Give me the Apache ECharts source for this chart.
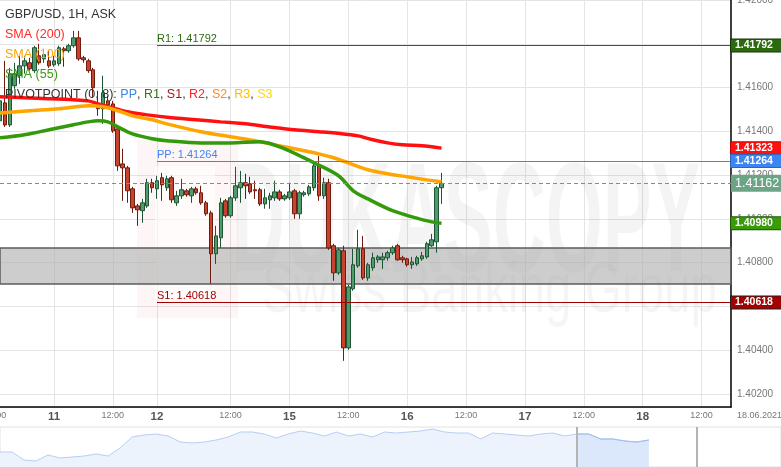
<!DOCTYPE html>
<html><head><meta charset="utf-8">
<script src="https://cdn.jsdelivr.net/npm/echarts@6.0.0/dist/echarts.min.js"></script>
<style>html,body{margin:0;padding:0;background:#fff;overflow:hidden}#c{width:781px;height:467px}</style>
</head><body><div id="c"></div>
<script>
// ---- trading sessions (date, first hour, last hour) -> hourly categories
const sessions = [
  ['2021-06-10', 13, 23], ['2021-06-11', 0, 23], ['2021-06-12', 0, 20],
  ['2021-06-14', 21, 23], ['2021-06-15', 0, 23], ['2021-06-16', 0, 23],
  ['2021-06-17', 0, 23], ['2021-06-18', 0, 18]
];
const dayTickLabels = {
  '2021-06-11 00:00': '11', '2021-06-11 21:00': '12', '2021-06-15 00:00': '15',
  '2021-06-16 00:00': '16', '2021-06-17 00:00': '17', '2021-06-18 00:00': '18'
};
const noonLabel = '12:00';

// ---- GBP/USD 1H candles
const opens = [1.41448,1.41530,1.41429,1.41608,1.41654,1.41699,1.41713,1.41677,1.41745,1.41731,
1.41722,1.41704,1.41709,1.41777,1.41768,1.41791,1.41827,1.41736,1.41722,1.41681,
1.41525,1.41503,1.41539,1.41525,1.41411,1.41251,1.41233,1.41137,1.41059,1.41037,
1.41059,1.41165,1.41137,1.41188,1.41142,1.41188,1.41073,1.41105,1.41128,1.41105,
1.41137,1.41119,1.41073,1.41027,1.40840,1.40913,1.41082,1.41014,1.41096,1.41142,
1.41165,1.41160,1.41133,1.41133,1.41068,1.41087,1.41096,1.41123,1.41091,1.41096,
1.41128,1.41023,1.41110,1.41114,1.41142,1.41242,1.41105,1.41165,1.40877,1.40753,
1.40854,1.40410,1.40680,1.40785,1.40863,1.40730,1.40776,1.40813,1.40813,1.40822,
1.40845,1.40877,1.40822,1.40817,1.40790,1.40794,1.40817,1.40826,1.40877,1.40895,1.41142];
const closes = [1.41539,1.41429,1.41663,1.41663,1.41699,1.41722,1.41686,1.41782,1.41713,1.41750,
1.41699,1.41722,1.41782,1.41768,1.41791,1.41827,1.41731,1.41727,1.41677,1.41599,
1.41503,1.41576,1.41521,1.41402,1.41242,1.41233,1.41128,1.41050,1.41041,1.41073,
1.41165,1.41142,1.41174,1.41155,1.41183,1.41087,1.41105,1.41133,1.41110,1.41137,
1.41119,1.41073,1.41023,1.40840,1.40922,1.41073,1.41014,1.41096,1.41151,1.41165,
1.41151,1.41123,1.41128,1.41068,1.41096,1.41105,1.41123,1.41091,1.41105,1.41123,
1.41023,1.41119,1.41119,1.41146,1.41242,1.41105,1.41165,1.40867,1.40753,1.40858,
1.40410,1.40689,1.40790,1.40863,1.40730,1.40790,1.40822,1.40826,1.40826,1.40845,
1.40867,1.40813,1.40813,1.40790,1.40803,1.40822,1.40831,1.40886,1.40904,1.41142,1.41162];
const lows = [1.41229,1.41420,1.41420,1.41594,1.41617,1.41663,1.41677,1.41667,1.41704,1.41713,
1.41690,1.41695,1.41699,1.41695,1.41759,1.41782,1.41722,1.41713,1.41667,1.41553,
1.41471,1.41434,1.41503,1.41393,1.41219,1.41082,1.41073,1.41027,1.40968,1.40982,
1.41050,1.41119,1.41091,1.41082,1.41128,1.41073,1.41059,1.41091,1.41101,1.41073,
1.41110,1.41064,1.41014,1.40703,1.40794,1.40867,1.41005,1.41005,1.41082,1.41073,
1.41091,1.41114,1.41091,1.41059,1.41046,1.41046,1.41082,1.41082,1.41082,1.41087,
1.41000,1.41000,1.41101,1.41105,1.41128,1.41082,1.41091,1.40858,1.40717,1.40744,
1.40351,1.40401,1.40671,1.40776,1.40721,1.40717,1.40762,1.40799,1.40771,1.40808,
1.40835,1.40808,1.40799,1.40781,1.40771,1.40785,1.40808,1.40817,1.40872,1.40845,1.41068];
const highs = [1.41553,1.41722,1.41690,1.41713,1.41745,1.41745,1.41736,1.41791,1.41800,1.41777,
1.41768,1.41745,1.41791,1.41786,1.41800,1.41859,1.41859,1.41745,1.41731,1.41690,
1.41585,1.41654,1.41562,1.41539,1.41420,1.41320,1.41242,1.41146,1.41068,1.41091,
1.41183,1.41183,1.41197,1.41210,1.41197,1.41197,1.41128,1.41183,1.41137,1.41146,
1.41146,1.41151,1.41082,1.41037,1.40968,1.41096,1.41091,1.41105,1.41238,1.41219,
1.41206,1.41192,1.41174,1.41142,1.41137,1.41119,1.41174,1.41133,1.41114,1.41165,
1.41137,1.41128,1.41128,1.41155,1.41256,1.41288,1.41188,1.41183,1.40886,1.40867,
1.40877,1.40698,1.40863,1.40950,1.40922,1.40799,1.40845,1.40835,1.40845,1.40854,
1.40877,1.40886,1.40831,1.40822,1.40826,1.40831,1.40849,1.40895,1.40931,1.41151,1.41210];

// ---- moving averages: [candle index, value]
const sma200 = [[0,1.41558],[5,1.41553],[10,1.41549],[15,1.41544],[18,1.41539],[20,1.41525],[23,1.41507],[26,1.41489],[30,1.41475],[35,1.41462],[40,1.41453],[45,1.41443],[50,1.41434],[55,1.41420],[60,1.41407],[65,1.41398],[70,1.41388],[73,1.41379],[76,1.41361],[79,1.41347],[82,1.41338],[86,1.41334],[90,1.41323]];
const sma100 = [[0,1.41484],[6,1.41494],[12,1.41503],[18,1.41517],[21,1.41512],[24,1.41494],[27,1.41471],[31,1.41453],[34,1.41434],[41,1.41398],[47,1.41375],[52,1.41357],[58,1.41329],[62,1.41311],[65,1.41297],[68,1.41279],[71,1.41256],[75,1.41224],[79,1.41206],[83,1.41192],[87,1.41178],[90,1.41169]];
const sma55 = [[0,1.41370],[5,1.41384],[10,1.41407],[15,1.41430],[18,1.41443],[20,1.41448],[22,1.41443],[24,1.41420],[27,1.41388],[31,1.41366],[34,1.41357],[41,1.41347],[47,1.41347],[53,1.41352],[58,1.41320],[64,1.41256],[69,1.41197],[72,1.41128],[75,1.41091],[80,1.41037],[84,1.41009],[88,1.40986],[90,1.40980]];

// ---- levels
const pivotR1 = 1.41792, pivotPP = 1.41264, pivotS1 = 1.40618;
const pivotStart = '2021-06-11 21:00';
const lastPrice = 1.41162;
const supportZone = [1.40702, 1.40867];
const yMin = 1.4014, yMax = 1.42;

// ---- navigator (relative level)
const navValues = [15,15,7,6,12,9,10,11,13,11,19,30,32,33,31,25,24,25,27,30,35,35,33,29,33,36,34,31,35,31,33,30,35,34,35,36,38,35,34,34,28,34,33,32,31,33,34,31,33,33,28,28,26,25,27];
const navSlots = 66, navWindowStart = 48, navHandleEnd = 58;

const categories = [];
sessions.forEach(([d, h0, h1]) => { for (let h = h0; h <= h1; h++) categories.push(d + ' ' + String(h).padStart(2, '0') + ':00'); });
const firstCat = categories[0], lastCat = categories[categories.length - 1];
const candleData = opens.map((o, i) => [o, closes[i], lows[i], highs[i]]);
const navCats = Array.from({length: navSlots}, (_, i) => String(i));
const navWindow = navValues.map((v, i) => i >= navWindowStart ? v : null);

const FONT = 'Liberation Sans, Arial, sans-serif';
const isTick = (i, v) => !!dayTickLabels[v] || v.slice(11) === noonLabel;

function boxLabel(text, bg, border, big) {
  return {
    show: true, position: 'end', distance: 0, formatter: text,
    color: '#fff', fontWeight: big ? 'normal' : 'bold', fontSize: big ? 12.5 : 10.5, fontFamily: FONT,
    backgroundColor: bg, borderColor: border, borderWidth: big ? 0 : 1,
    padding: big ? [2, 3, 1, 4] : [1, 3, 0, 4], width: 43, height: big ? 14 : 11, lineHeight: big ? 14 : 11, align: 'left'
  };
}
function endBox(value, bg, border, big) {
  return [
    {coord: [firstCat, value], lineStyle: {color: 'rgba(0,0,0,0)', width: 1}, label: boxLabel(value.toFixed(5), bg, border, big)},
    {coord: [lastCat, value]}
  ];
}
function pivotLine(value, name, color) {
  return [
    {coord: [pivotStart, value], lineStyle: {color: color, width: 1, type: 'solid'},
     label: {show: true, position: 'insideStartTop', distance: [0, 1], formatter: name + ': ' + value.toFixed(5),
             color: color, fontSize: 11, fontFamily: FONT}},
    {coord: [lastCat, value]}
  ];
}

const chart = echarts.init(document.getElementById('c'));
chart.setOption({
  animation: false,
  backgroundColor: '#fff',
  textStyle: {fontFamily: FONT},
  grid: [
    {left: 0, top: 0, width: 731, height: 407, outerBoundsMode: 'none', containLabel: false},
    {left: 0, right: 0, top: 427, bottom: 0, show: true, borderColor: '#e2e2e2', borderWidth: 1, outerBoundsMode: 'none', containLabel: false}
  ],
  xAxis: [
    {type: 'category', gridIndex: 0, data: categories, boundaryGap: false,
     axisLine: {lineStyle: {color: '#000', width: 1.5}}, axisTick: {show: false},
     axisLabel: {interval: isTick, margin: 4, hideOverlap: false,
       formatter: v => dayTickLabels[v] ? '{d|' + dayTickLabels[v] + '}' : '{h|' + noonLabel + '}',
       rich: {d: {fontWeight: 'bold', fontSize: 11.5, color: '#555', fontFamily: FONT},
              h: {fontSize: 9, color: '#777', fontFamily: FONT}}},
     splitLine: {show: true, interval: isTick, lineStyle: {color: '#e4e4e4'}}},
    {type: 'category', gridIndex: 1, data: navCats, boundaryGap: false, show: false}
  ],
  yAxis: [
    {type: 'value', gridIndex: 0, position: 'right', min: yMin, max: yMax, splitNumber: 9, scale: true,
     axisLine: {show: true, lineStyle: {color: '#000', width: 1.5}}, axisTick: {show: false},
     axisLabel: {margin: 6, color: '#777', fontSize: 10, fontFamily: FONT,
       formatter: v => Math.abs(v / 0.002 - Math.round(v / 0.002)) < 1e-6 ? v.toFixed(5) : ''},
     splitLine: {lineStyle: {color: '#e4e4e4'}}},
    {type: 'value', gridIndex: 1, min: 0, max: 40, show: false}
  ],
  graphic: [
    // watermark
    {type: 'rect', z: 1, silent: true, shape: {x: 137, y: 140, width: 101, height: 178}, style: {fill: 'rgba(230,40,40,0.045)'}},
    {type: 'rect', z: 1, silent: true, shape: {x: 155, y: 166, width: 60, height: 134}, style: {fill: 'rgba(255,255,255,0.6)'}},
    {type: 'text', z: 1, silent: true, x: 232, y: 150, scaleX: 0.47,
     style: {text: 'DUKASCOPY', font: 'bold 156px ' + FONT, fill: 'rgba(0,0,0,0.045)', textBaseline: 'top'}},
    {type: 'text', z: 1, silent: true, x: 262, y: 258, scaleX: 0.68,
     style: {text: 'Swiss Banking Group', font: '70px ' + FONT, fill: 'rgba(0,0,0,0.04)', textBaseline: 'top'}},
    // legend
    {type: 'text', z: 50, x: 5, y: 15, style: {text: 'GBP/USD, 1H, ASK', font: '12.5px ' + FONT, fill: '#333', textVerticalAlign: 'middle'}},
    {type: 'text', z: 50, x: 5, y: 35, style: {text: 'SMA (200)', font: '12.5px ' + FONT, fill: '#ff2a2a', textVerticalAlign: 'middle'}},
    {type: 'text', z: 50, x: 5, y: 55, style: {text: 'SMA (100)', font: '12.5px ' + FONT, fill: '#ffa500', textVerticalAlign: 'middle'}},
    {type: 'text', z: 50, x: 5, y: 75, style: {text: 'SMA (55)', font: '12.5px ' + FONT, fill: '#3a9a14', textVerticalAlign: 'middle'}},
    {type: 'text', z: 50, x: 5, y: 95, style: {
      text: '{k|PIVOTPOINT (0, 8):} {pp|PP}{k|,} {r1|R1}{k|,} {s1|S1}{k|,} {r2|R2}{k|,} {s2|S2}{k|,} {r3|R3}{k|,} {s3|S3}',
      font: '12.5px ' + FONT, textVerticalAlign: 'middle',
      rich: {k: {fill: '#333', font: '12.5px ' + FONT}, pp: {fill: '#3d85f0', font: '12.5px ' + FONT},
             r1: {fill: '#2e7a18', font: '12.5px ' + FONT}, s1: {fill: '#a81818', font: '12.5px ' + FONT},
             r2: {fill: '#ff2222', font: '12.5px ' + FONT}, s2: {fill: '#ff8c1a', font: '12.5px ' + FONT},
             r3: {fill: '#ffbf00', font: '12.5px ' + FONT}, s3: {fill: '#ffd900', font: '12.5px ' + FONT}}}},
    // date stamp and clipped first time label
    {type: 'text', z: 50, x: 737, y: 416, style: {text: '18.06.2021', font: '9px ' + FONT, fill: '#777', textVerticalAlign: 'middle'}},
    {type: 'text', z: 50, x: -5, y: 416, style: {text: noonLabel, font: '9px ' + FONT, fill: '#777', textAlign: 'center', textVerticalAlign: 'middle'}}
  ],
  series: [
    {name: 'zone', type: 'candlestick', data: [], z: 1, silent: true,
     markArea: {silent: true, itemStyle: {color: 'rgba(175,175,175,0.62)', borderColor: '#5c5c5c', borderWidth: 1.5},
       data: [[{coord: [firstCat, supportZone[0]]}, {coord: [lastCat, supportZone[1]]}]]}},
    {name: 'GBP/USD', type: 'candlestick', data: candleData, barWidth: 4, z: 3,
     itemStyle: {color: '#4e9c6c', color0: '#c6432f', borderColor: '#1f5534', borderColor0: '#6e1c10', borderWidth: 1}},
    {name: 'SMA (200)', type: 'line', data: sma200, smooth: 0.3, showSymbol: false, z: 4,
     lineStyle: {color: '#ff1010', width: 3.5}},
    {name: 'SMA (100)', type: 'line', data: sma100, smooth: 0.3, showSymbol: false, z: 4,
     lineStyle: {color: '#ffa500', width: 3.5}},
    {name: 'SMA (55)', type: 'line', data: sma55, smooth: 0.3, showSymbol: false, z: 4,
     lineStyle: {color: '#339a0c', width: 3.5}},
    {name: 'levels', type: 'line', data: [], z: 5, clip: false, silent: true,
     markLine: {silent: true, symbol: ['none', 'none'], animation: false,
       data: [
         pivotLine(pivotR1, 'R1', '#2d6a12'),
         pivotLine(pivotPP, 'PP', '#3d85f0'),
         pivotLine(pivotS1, 'S1', '#a00000'),
         [{coord: [firstCat, lastPrice], lineStyle: {color: '#6a9c7e', type: [4, 3], width: 1}, label: {show: false}},
          {coord: [lastCat, lastPrice]}],
         endBox(pivotR1, '#2d6a0f', '#14350a'),
         endBox(sma200[sma200.length - 1][1], '#ff1010', '#c00000'),
         endBox(pivotPP, '#3d85f0', '#2a65c0'),
         endBox(sma55[sma55.length - 1][1], '#3a9a0a', '#1d5a05'),
         endBox(pivotS1, '#a30000', '#222'),
         endBox(lastPrice, '#6ca586', '#6ca586', true)
       ]}},
    {name: 'nav', type: 'line', xAxisIndex: 1, yAxisIndex: 1, data: navValues, showSymbol: false, silent: true,
     lineStyle: {color: '#b6cdf4', width: 1}, areaStyle: {color: '#edf3fd', opacity: 1},
     markLine: {silent: true, symbol: ['none', 'none'], label: {show: false},
       lineStyle: {color: '#b4b4b4', width: 2, type: 'solid'},
       data: [{xAxis: String(navWindowStart)}, {xAxis: String(navHandleEnd)}]}},
    {name: 'navWindow', type: 'line', xAxisIndex: 1, yAxisIndex: 1, data: navWindow, showSymbol: false, silent: true,
     lineStyle: {color: '#9dbcf2', width: 1}, areaStyle: {color: '#dbe7fb', opacity: 1}}
  ]
});
</script>
</body></html>
